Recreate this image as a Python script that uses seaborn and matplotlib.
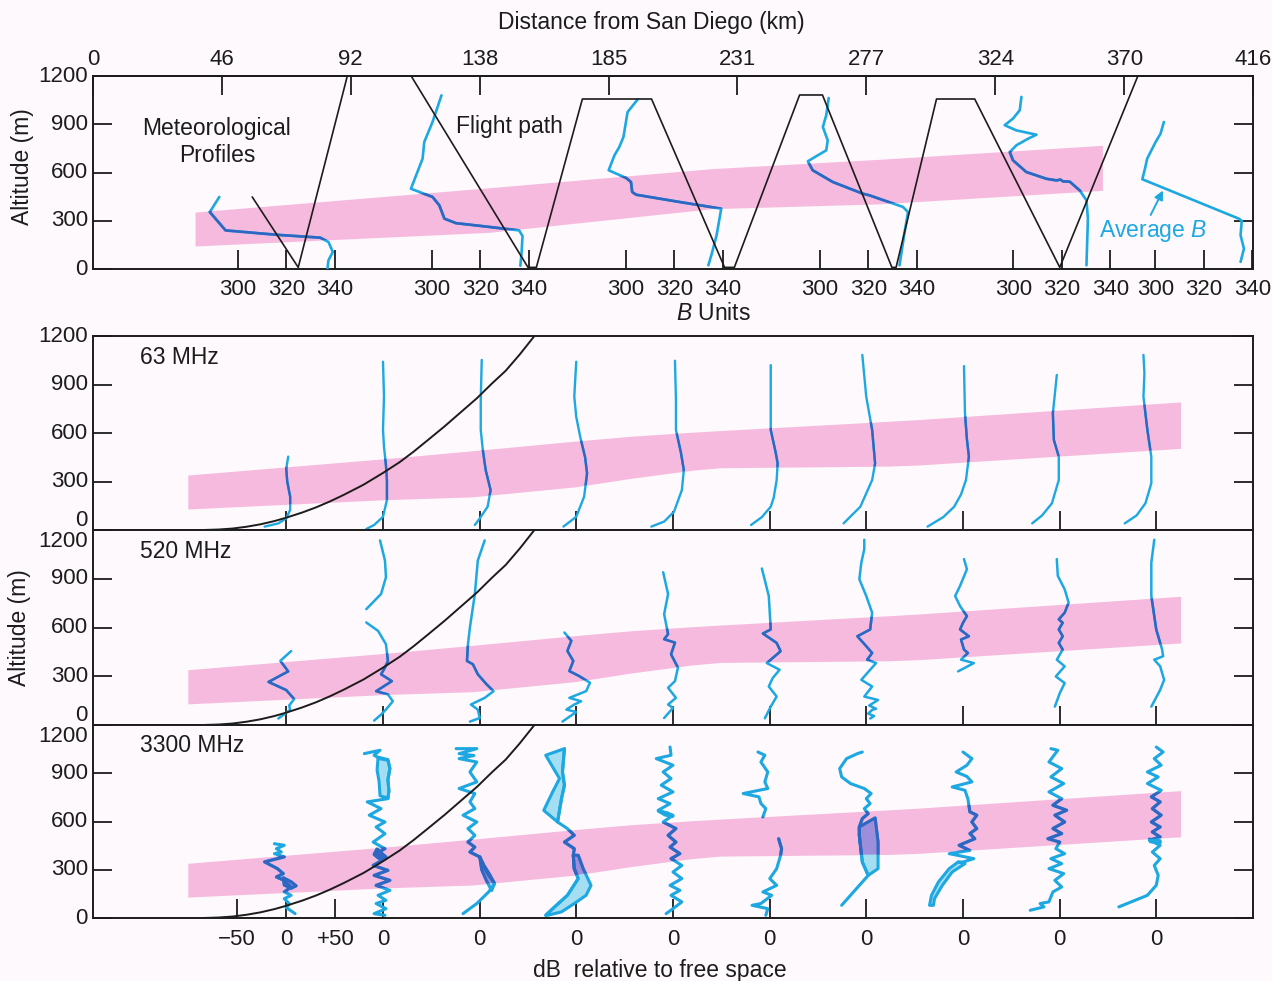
import numpy as np
import matplotlib
matplotlib.use("Agg")
import matplotlib.pyplot as plt
from matplotlib.patches import Polygon
import seaborn as sns

# ---------------------------------------------------------------- data
# distance axis (km from San Diego), ticks every 25 nmi
dist_ticks_km = [0, 46.2, 92.4, 138.7, 184.9, 231.1, 277.3, 323.6, 369.8, 416]
dist_tick_labels = ["0", "46", "92", "138", "185", "231", "277", "324", "370", "416"]

# aircraft flight path (km, m)
flight_km = [57.1, 73.6, 91.2, 102.0, 114.1, 156.0, 159.0, 175.5, 200.3, 226.5, 230.0,
             253.4, 261.6, 286.5, 288.0, 302.5, 316.2, 346.7, 374.7, 380.0]
flight_alt = [448, 10, 1200, 1400, 1200, 10, 10, 1057, 1057, 10, 10,
              1082, 1082, 10, 10, 1057, 1057, 10, 1200, 1300]

# trapping layer seen in the refractivity soundings
met_band_km = [36.6, 142, 222, 282, 362]
met_band_lo = [143, 228, 375, 405, 489]
met_band_hi = [354, 505, 624, 682, 769]

# refractivity soundings: (B units, altitude m); sites where B = 320 sits
met_site_km = [69.3, 138.9, 208.5, 278.1, 347.4, 398.4]
met_b_ticks = [300, 320, 340]
met_profiles = [
    [(292.4, 448), (288.5, 354), (295, 240), (315.8, 213), (334, 195), (337.4, 168),
     (339.2, 106), (337.4, 54), (337, 2)],
    [(304, 1080), (300.3, 914), (296.9, 790), (296.2, 686), (291.4, 499), (300.3, 448),
     (303.1, 396), (305.2, 313), (310, 285), (320, 268), (336, 240), (337.4, 205),
     (337, 100), (336.5, 20)],
    [(304.9, 1055), (300.7, 976), (299, 821), (297.3, 759), (295.3, 707), (292.9, 614),
     (300.1, 566), (302.1, 541), (302.6, 479), (304.2, 462), (322, 417), (339.3, 375),
     (337.4, 210), (335.4, 95), (334, 23)],
    [(303.6, 1063), (302.6, 956), (301.2, 883), (303.2, 800), (302.6, 738), (295, 670),
     (297, 614), (305.3, 541), (317.7, 468), (320.4, 458), (334.2, 386), (336.3, 354),
     (334.9, 230), (332.8, 23)],
    [(303.4, 1070), (302.7, 987), (299.9, 935), (296.5, 894), (301.3, 862), (309.6, 835),
     (306.1, 810), (301.3, 769), (298.6, 727), (299.9, 676), (305.4, 603), (313.7, 561),
     (317.8, 551), (319.5, 556), (320.5, 545), (323.3, 543), (327.4, 489), (330.2, 427),
     (330.8, 313), (330.2, 23)],
    [(303.5, 914), (302.1, 841), (300.1, 790), (296.6, 686), (295.7, 624), (294.6, 558),
     (334.4, 313), (335.6, 300), (335.1, 210), (336.5, 126), (335.1, 44)],
]

# layer band in the propagation panels
band_km = [34, 104, 136, 173, 193, 215, 225, 285, 296, 390]
band_lo = [130, 187, 205, 267, 320, 370, 385, 395, 402, 505]
band_hi = [340, 440, 490, 550, 580, 605, 615, 672, 683, 792]

# geometric horizon curve (km, m)
horizon_km = [39.5, 45, 50, 55, 60, 65, 68.9, 75, 80, 85, 90, 97, 104, 110, 115, 120,
              126, 132, 137.8, 143, 148, 153, 158.3, 163]
horizon_alt = [0, 3, 9, 20, 35, 55, 74, 108, 140, 177, 218, 280, 353, 420, 485, 555,
               640, 730, 817, 905, 985, 1085, 1200, 1290]

# sites of the signal-level profiles (0 dB position)
db_site_km = [69.3, 104.0, 138.7, 173.3, 208.0, 242.7, 277.3, 312.0, 346.7, 381.3]

# signal level relative to free space: (dB, altitude m); None breaks a trace
db_63mhz = [
    [(2, 454), (0, 380), (1, 300), (4, 206), (4, 124), (0, 72), (-8, 41), (-22, 21)],
    [(0, 1041), (1, 825), (0, 620), (1, 515), (3, 400), (4, 309), (4, 186), (0, 82), (-9, 31), (-17, 6)],
    [(2, 1052), (1, 800), (1, 619), (3, 500), (6, 371), (11, 247), (8, 144), (0, 72), (-5, 31)],
    [(0, 1041), (-2, 825), (0, 700), (4, 577), (9, 450), (11, 350), (8, 206), (0, 82), (-13, 21)],
    [(2, 1047), (3, 800), (3, 619), (8, 480), (11, 371), (9, 247), (1, 113), (-9, 52), (-22, 21)],
    [(1, 1020), (1, 800), (1, 619), (6, 480), (8, 412), (7, 309), (4, 200), (1, 144), (-8, 80), (-19, 31)],
    [(-4, 1083), (0, 825), (6, 619), (9, 412), (6, 309), (-6, 144), (-23, 41)],
    [(1, 1014), (2, 722), (4, 560), (6, 454), (3, 309), (-2, 220), (-9, 144), (-20, 80), (-36, 21)],
    [(-3, 959), (-7, 722), (-6, 557), (-1, 454), (-1, 309), (-8, 165), (-18, 90), (-28, 41)],
    [(-13, 1083), (-12, 969), (-13, 825), (-9, 619), (-5, 454), (-5, 289), (-11, 165), (-20, 90), (-32, 41)],
]

db_520mhz = [
    [(5, 455), (-6, 395), (2, 330), (-18, 265), (0, 215), (8, 160), (3, 120), (4, 93), (-8, 40)],
    [(-3, 1136), (2, 1012), (3, 909), (-2, 806), (-17, 713), None,
     (-17, 631), (-5, 579), (3, 497), (5, 394), (2, 353), (-2, 312), (9, 270), (-7, 208),
     (5, 188), (10, 146), (3, 95), (-2, 64), (-9, 27)],
    [(5, 1136), (-2, 1012), (-5, 806), (-10, 600), (-12, 497), (-13, 394), (-7, 374), (-2, 312),
     (7, 250), (14, 208), (5, 167), (-9, 126), (-2, 95), (0, 43), (-10, 21)],
    [(-12, 569), (-5, 518), (-9, 456), (-3, 394), (-7, 332), (3, 301), (14, 260), (10, 208),
     (-7, 167), (5, 146), (-2, 126), (-10, 95), (0, 80), (-14, 21)],
    [(-10, 940), (-5, 806), (-9, 682), (-5, 559), (-9, 528), (2, 507), (-2, 435), (5, 353),
     (2, 270), (-5, 229), (3, 167), (-5, 126), (0, 105), (-9, 43)],
    [(-8, 963), (-1, 794), (1, 588), (-7, 563), (7, 505), (11, 454), (1, 402), (-3, 381),
     (10, 340), (3, 289), (-1, 237), (7, 175), (1, 113), (-5, 41)],
    [(-2, 1140), (-2, 1082), (-5, 999), (-7, 897), (0, 794), (6, 691), (4, 588), (-9, 546),
     (0, 485), (6, 443), (1, 402), (10, 381), (4, 340), (-5, 278), (6, 237), (-2, 175),
     (12, 154), (3, 120), (10, 100), (6, 93), (2, 70), (8, 55), (4, 40)],
    [(1, 1021), (4, 959), (-3, 856), (-8, 794), (-3, 732), (4, 670), (0, 629), (-3, 588),
     (6, 546), (-2, 526), (1, 464), (5, 443), (-2, 402), (11, 381), (-5, 330)],
    [(-3, 1021), (-2, 918), (5, 835), (9, 753), (5, 691), (-1, 650), (3, 629), (-1, 588),
     (3, 546), (-1, 505), (3, 464), (-3, 402), (5, 361), (-4, 299), (5, 258), (0, 196), (-5, 113)],
    [(-2, 1140), (-5, 999), (-5, 794), (0, 588), (6, 464), (7, 423), (-2, 402), (4, 361),
     (8, 278), (4, 216), (-5, 113)],
]

db_3300mhz = [
    [(-12, 462), (-2, 452), (-10, 431), (-5, 410), (-12, 400), (-2, 380), (-22, 349), (-9, 307),
     (-3, 276), (-10, 255), (-2, 234), (5, 193), (-2, 162), (5, 141), (-2, 120), (3, 90),
     (0, 65), (9, 27)],
    [(-19, 1022), (-3, 1043), (-9, 1012), (-3, 990), (5, 981), (7, 930), (5, 860), (6, 790),
     (5, 742), (-16, 722), (-2, 680), (-14, 639), (2, 597), (-7, 566), (2, 524), (-10, 472),
     (2, 431), (-7, 400), (2, 369), (-10, 327), (5, 296), (-9, 265), (7, 234), (-7, 203),
     (7, 172), (-5, 141), (3, 110), (-7, 90), (3, 58), (-9, 27), (2, 17)],
    [(-24, 1053), (-3, 1053), (-21, 1022), (-6, 1010), (-21, 991), (-3, 970), (-10, 908),
     (-3, 846), (-21, 805), (-5, 774), (-10, 722), (-5, 680), (-17, 639), (-3, 597),
     (-12, 556), (-5, 514), (-12, 472), (-5, 441), (-10, 410), (0, 380), (3, 327), (9, 265),
     (15, 214), (9, 162), (-3, 90), (-17, 27)],
    [(-12, 1053), (-14, 908), (-12, 826), (-15, 742), (-19, 597), (-9, 556), (-2, 514),
     (-12, 472), (-2, 431), (-3, 390), (-2, 307), (2, 245), (-9, 141), (-22, 69), (-31, 17)],
    [(-3, 1063), (-2, 1012), (-17, 991), (0, 950), (-10, 908), (-2, 867), (-12, 826), (0, 784),
     (-15, 742), (-3, 711), (-15, 670), (0, 639), (-10, 597), (3, 556), (-5, 514), (3, 472),
     (-3, 441), (7, 400), (-2, 369), (9, 327), (0, 286), (9, 245), (-3, 203), (7, 172),
     (-2, 141), (9, 100), (0, 58), (-7, 27)],
    [(-12, 1032), (-5, 1012), (-9, 970), (-2, 908), (-5, 846), (-2, 805), (-27, 774),
     (-11, 753), (-9, 712), (-4, 680), (-7, 629), None,
     (9, 493), (12, 431), (11, 390), (7, 307), (0, 245), (7, 203), (-7, 162), (2, 141),
     (-9, 90), (-18, 79), (-2, 58), (-4, 17)],
    [(-4, 1032), (-9, 1022), (-20, 991), (-27, 929), (-25, 877), (-16, 836), (-2, 805),
     (5, 774), (0, 742), (4, 711), (-2, 680), (2, 649), (-4, 618), (-7, 566), (-7, 514),
     (-4, 348), (2, 265), (-25, 79)],
    [(0, 1032), (9, 991), (4, 950), (-7, 908), (4, 880), (9, 846), (-11, 815), (2, 794),
     (5, 740), (7, 660), (14, 639), (9, 597), (14, 556), (7, 525), (12, 493), (-4, 452),
     (7, 420), (-14, 400), (11, 369), (0, 348), (-5, 348)],
    [(-9, 1053), (-2, 1043), (-11, 970), (2, 929), (-9, 877), (4, 836), (-11, 784), (2, 742),
     (-7, 701), (7, 670), (-5, 639), (5, 597), (-7, 556), (2, 525), (-12, 493), (0, 472),
     (-4, 431), (5, 400), (-9, 369), (2, 338), (-11, 307), (4, 276), (-5, 234), (2, 193),
     (-7, 162), (-11, 100), (-20, 90), (-16, 69), (-30, 48)],
    [(0, 1063), (7, 1032), (-2, 991), (5, 950), (-9, 908), (2, 877), (-9, 836), (5, 794),
     (-5, 753), (4, 722), (-4, 680), (5, 639), (-5, 597), (4, 566), (-4, 535), (4, 504),
     (-7, 483), (4, 452), (-4, 410), (4, 369), (-2, 327), (2, 265), (0, 203), (-9, 141),
     (-38, 69)],
]

# shaded spread between repeated 3300 MHz runs: (profile index, outline)
fills_3300mhz = [
    (0, [(-3, 250), (5, 225), (10, 200), (5, 185), (-2, 205)]),
    (1, [(-5, 1000), (5, 985), (7, 930), (5, 860), (6, 790), (5, 745), (-3, 760), (-4, 850), (-6, 920)]),
    (1, [(-6, 430), (-2, 405), (3, 380), (-4, 370), (-9, 395)]),
    (2, [(0, 380), (4, 330), (10, 270), (15, 214), (12, 170), (7, 230), (2, 300)]),
    (3, [(-31, 1012), (-17, 867), (-24, 784), (-33, 669), (-19, 597), (-15, 742), (-12, 826),
         (-14, 908), (-12, 1053)]),
    (3, [(-3, 390), (-2, 307), (2, 245), (-9, 141), (-22, 69), (-31, 17), (-29, 17), (-15, 38),
         (-2, 90), (10, 141), (15, 203), (7, 307), (2, 390)]),
    (4, [(-15, 665), (-5, 652), (0, 632), (-8, 640)]),
    (6, [(-7, 566), (9, 622), (12, 473), (12, 307), (2, 265), (-4, 348), (-7, 514)]),
    (7, [(-5, 348), (-14, 307), (-25, 224), (-32, 141), (-34, 79), (-30, 79), (-29, 120),
         (-21, 203), (-11, 286), (2, 338)]),
    (9, [(-7, 490), (4, 480), (4, 468), (-6, 474)]),
]

db_ticks = [-50, 0, 50]
db_tick_labels = ["\u221250", "0", "+50"]

# ---------------------------------------------------------------- style
INK = "#1c1c1c"
CYAN = "#1ea8e2"
DEEP = "#2f66c2"
PINK = "#f6bade"
LIGHT = "#a3def2"
PURPLE = "#9c8edb"
PAPER = "#fdf9fc"

KM_PER_B = 0.870     # horizontal scale of one B unit
KM_PER_DB = 0.353    # horizontal scale of one dB

sns.set_theme(style="white", rc={
    "figure.facecolor": PAPER, "axes.facecolor": PAPER, "savefig.facecolor": PAPER,
    "axes.edgecolor": INK, "axes.linewidth": 1.4,
    "xtick.color": INK, "ytick.color": INK, "text.color": INK,
    "xtick.bottom": True, "ytick.left": True,
})
plt.rcParams["font.family"] = ["Liberation Sans", "DejaVu Sans"]
plt.rcParams["mathtext.fontset"] = "custom"
plt.rcParams["mathtext.rm"] = "Liberation Sans"
plt.rcParams["mathtext.it"] = "Liberation Sans:italic"

W, H = 1272, 981
fig = plt.figure(figsize=(W / 100, H / 100), dpi=100)


def axes_px(left, top, right, bottom):
    return fig.add_axes([left / W, 1 - bottom / H, (right - left) / W, (bottom - top) / H])


def ftext(x, y, s, **kw):
    fig.text(x / W, 1 - y / H, s, **kw)


def trace_xy(site, pts, scale, ref=0.0):
    xs, ys = [], []
    for p in pts:
        if p is None:
            xs.append(np.nan)
            ys.append(np.nan)
        else:
            xs.append(site + (p[0] - ref) * scale)
            ys.append(p[1])
    return np.array(xs), np.array(ys)


def band_patch(ax, km, lo, hi):
    ax.fill_between(km, lo, hi, color=PINK, lw=0, zorder=1)
    verts = np.column_stack([list(km) + list(km[::-1]), list(lo) + list(hi[::-1])])
    return Polygon(verts, closed=True, transform=ax.transData)


def draw_trace(ax, x, y, clip, lw):
    kw = dict(lw=lw, solid_joinstyle="round", solid_capstyle="round")
    ax.plot(x, y, color=CYAN, zorder=3, **kw)
    ln, = ax.plot(x, y, color=DEEP, zorder=3.2, **kw)
    ln.set_clip_path(clip)


def draw_fill(ax, x, y, clip, lw):
    ax.fill(x, y, facecolor=LIGHT, edgecolor=CYAN, lw=lw, zorder=2.8, joinstyle="round")
    for p in ax.fill(x, y, facecolor=PURPLE, edgecolor=DEEP, lw=lw, zorder=3.1, joinstyle="round"):
        p.set_clip_path(clip)


def frame(ax):
    ax.set_xlim(0, 416)
    ax.set_ylim(0, 1200)
    for s in ax.spines.values():
        s.set_visible(True)
        s.set_color(INK)
        s.set_linewidth(1.4)
    ax.set_yticks([0, 300, 600, 900, 1200])
    ax.set_yticklabels([])
    ax.tick_params(axis="both", direction="in", length=13.5, width=1.3, color=INK,
                   labelsize=16, labelcolor=INK)
    ax.tick_params(axis="y", left=True, right=True)
    ax.tick_params(axis="x", bottom=True, top=False)
    ax.set_xlabel("")
    ax.set_ylabel("")


def ylabels(ax, spec):
    for val, ypos in spec:
        ax.text(-5 / 1160, ypos, str(val), transform=ax.get_yaxis_transform(),
                ha="right", va="center", fontsize=16, color=INK)


# ---------------------------------------------------------------- soundings panel
ax_met = axes_px(93, 76, 1253, 269)
frame(ax_met)
clip_met = band_patch(ax_met, met_band_km, met_band_lo, met_band_hi)
sns.lineplot(x=flight_km, y=flight_alt, sort=False, estimator=None, color=INK,
             lw=1.2, ax=ax_met, zorder=4)
for site, prof in zip(met_site_km, met_profiles):
    x, y = trace_xy(site, prof, KM_PER_B, ref=320)
    draw_trace(ax_met, x, y, clip_met, 1.9)

b_pos = [site + (b - 320) * KM_PER_B for site in met_site_km for b in met_b_ticks]
ax_met.set_xticks(b_pos)
ax_met.set_xticklabels([str(b) for _ in met_site_km for b in met_b_ticks])
ax_met.tick_params(axis="x", bottom=True, pad=7)
ax_met.set_xlim(0, 416)
ax_met.set_ylabel("")
ax_met.set_xlabel("")
top = ax_met.secondary_xaxis("top")
top.set_xticks(dist_ticks_km)
top.set_xticklabels(dist_tick_labels)
top.tick_params(direction="in", length=13.5, width=1.3, color=INK, labelsize=16, pad=4)
top.spines["top"].set_linewidth(1.4)
ylabels(ax_met, [(0, 0), (300, 300), (600, 600), (900, 900), (1200, 1200)])

ax_met.annotate("", xy=(383.7, 488), xytext=(379.3, 336),
                arrowprops=dict(arrowstyle="-|>", color=CYAN, lw=1.4, mutation_scale=13,
                                shrinkA=0, shrinkB=0), zorder=5)

# ---------------------------------------------------------------- propagation panels
panels = [
    (axes_px(93, 336, 1253, 530), db_63mhz, "63 MHz", 1.7,
     [(0, 56), (300, 300), (600, 600), (900, 900), (1200, 1200)]),
    (axes_px(93, 530, 1253, 725), db_520mhz, "520 MHz", 1.8,
     [(0, 56), (300, 300), (600, 600), (900, 900), (1200, 1132)]),
    (axes_px(93, 725, 1253, 918), db_3300mhz, "3300 MHz", 2.2,
     [(0, 0), (300, 300), (600, 600), (900, 900), (1200, 1126)]),
]

for ax, profiles, name, lw, ylab in panels:
    frame(ax)
    clip = band_patch(ax, band_km, band_lo, band_hi)
    sns.lineplot(x=horizon_km, y=horizon_alt, sort=False, estimator=None, color=INK,
                 lw=1.4, ax=ax, zorder=4)
    for site, prof in zip(db_site_km, profiles):
        x, y = trace_xy(site, prof, KM_PER_DB)
        draw_trace(ax, x, y, clip, lw)
    if profiles is db_3300mhz:
        for idx, outline in fills_3300mhz:
            x, y = trace_xy(db_site_km[idx], outline, KM_PER_DB)
            draw_fill(ax, x, y, clip, lw)
    ax.set_xlim(0, 416)
    ax.set_ylim(0, 1200)
    ax.set_xlabel("")
    ax.set_ylabel("")
    ylabels(ax, ylab)
    ax.text(47 / 1160, 1 - 21 / 194, name, transform=ax.transAxes, ha="left",
            va="center", fontsize=16.5, color=INK)

ax3300 = panels[2][0]
first = db_site_km[0]
tick_pos = [first + d * KM_PER_DB for d in db_ticks] + list(db_site_km[1:])
tick_lab = db_tick_labels + ["0"] * (len(db_site_km) - 1)
for ax, _, _, _, _ in panels:
    if ax is ax3300:
        ax.set_xticks(tick_pos)
        ax.set_xticklabels(tick_lab)
        ax.tick_params(axis="x", bottom=True, pad=8)
    else:
        ax.set_xticks(db_site_km)
        ax.set_xticklabels([])
        ax.tick_params(axis="x", bottom=True)
    ax.set_xlim(0, 416)

# ---------------------------------------------------------------- text
ftext(651, 22, "Distance from San Diego (km)", ha="center", va="center", fontsize=16.5)
ftext(713, 313, r"$B$ Units", ha="center", va="center", fontsize=16.5)
ftext(660, 970, "dB  relative to free space", ha="center", va="center", fontsize=16.5)
ftext(22, 167, "Altitude (m)", ha="center", va="center", rotation=90, fontsize=16.5)
ftext(20, 628, "Altitude (m)", ha="center", va="center", rotation=90, fontsize=16.5)
ftext(217, 142, "Meteorological\nProfiles", ha="center", va="center", fontsize=16.5,
      linespacing=1.25)
ftext(509, 127, "Flight path", ha="center", va="center", fontsize=16.5)
ftext(1153, 231, r"Average $B$", ha="center", va="center", fontsize=16.5, color=CYAN)

fig.savefig("out.png", dpi=100, facecolor=PAPER)
